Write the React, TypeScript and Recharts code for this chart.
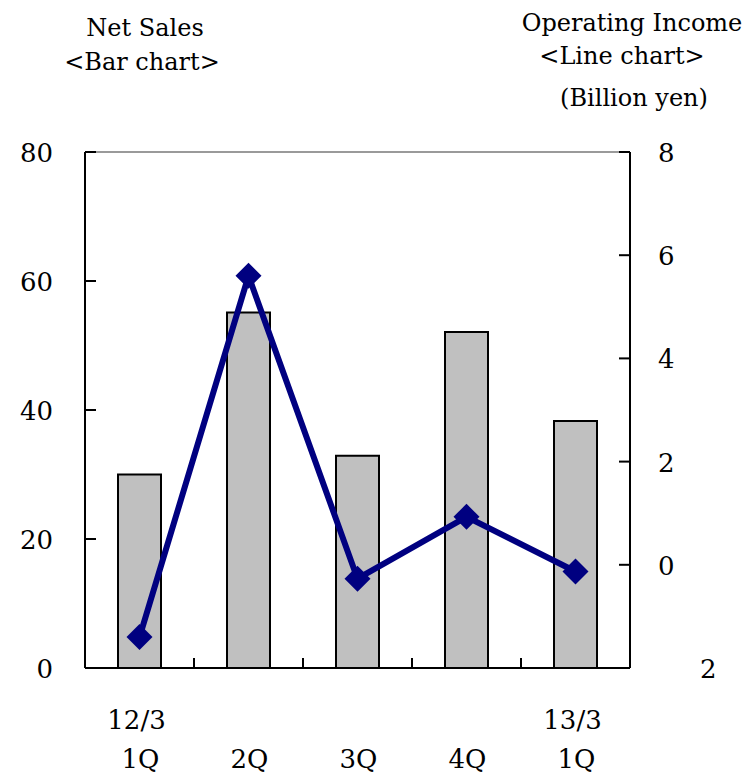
import React from 'react';
import { ComposedChart, Bar, Line, XAxis, YAxis, ReferenceLine } from 'recharts';

// Quarterly results: net sales (bars, left axis) and operating income (line, right axis)
const quarters = ['1Q', '2Q', '3Q', '4Q', '1Q'];
const fiscalYears = ['12/3', '', '', '', '13/3'];
const netSales = [30.0, 55.1, 32.9, 52.1, 38.3];
const operatingIncome = [-1.4, 5.6, -0.27, 0.93, -0.13];
const salesTicks = [0, 20, 40, 60, 80];
const incomeTicks = [-2, 0, 2, 4, 6, 8];

const data = quarters.map((q, i) => ({
  slot: i,
  quarter: q,
  sales: netSales[i],
  income: operatingIncome[i],
}));

const FONT = '"DejaVu Serif", serif';
const NUM_SIZE = 26;
const NAVY = '#000080';

const QuarterTick = (props: any) => {
  const { x, y, payload } = props;
  const i: number = payload.value;
  const half: number = payload.offset ?? 0;
  return (
    <g>
      {i < quarters.length - 1 && half ? (
        <line x1={x + half} x2={x + half} y1={y} y2={y - 10} stroke="#000" strokeWidth={2} />
      ) : null}
      {fiscalYears[i] ? (
        <text x={x - 3} y={y + 61} textAnchor="middle" fontFamily={FONT} fontSize={NUM_SIZE} fill="#000">
          {fiscalYears[i]}
        </text>
      ) : null}
      <text x={x + 1} y={y + 100} textAnchor="middle" fontFamily={FONT} fontSize={NUM_SIZE} fill="#000">
        {quarters[i]}
      </text>
    </g>
  );
};

const SalesTick = (props: any) => {
  const { x, y, payload } = props;
  const v: number = payload.value;
  return (
    <g>
      {v > 0 ? <line x1={x} x2={x + 11} y1={y} y2={y} stroke="#000" strokeWidth={2} /> : null}
      <text x={x - 32} y={y + 10} textAnchor="end" fontFamily={FONT} fontSize={NUM_SIZE} fill="#000">
        {v}
      </text>
    </g>
  );
};

const IncomeTick = (props: any) => {
  const { x, y, payload } = props;
  const v: number = payload.value;
  const isBottom = v === incomeTicks[0];
  return (
    <g>
      {!isBottom ? <line x1={x} x2={x - 11} y1={y} y2={y} stroke="#000" strokeWidth={2} /> : null}
      <text
        x={isBottom ? x + 70 : x + 28}
        y={y + 10}
        textAnchor="start"
        fontFamily={FONT}
        fontSize={NUM_SIZE}
        fill="#000"
      >
        {Math.abs(v)}
      </text>
    </g>
  );
};

const DiamondDot = (props: any) => {
  const { cx, cy, index } = props;
  const r = 13;
  return (
    <polygon
      key={`dot-${index}`}
      points={`${cx},${cy - r} ${cx + r},${cy} ${cx},${cy + r} ${cx - r},${cy}`}
      fill={NAVY}
      stroke="none"
    />
  );
};

const titleStyle = { fontFamily: FONT, fontSize: 24, fill: '#000' } as const;

export default function App() {
  return (
    <div style={{ position: 'absolute', left: 0, top: 0, width: 756, height: 776, background: '#fff' }}>
      <ComposedChart
        width={756}
        height={776}
        data={data}
        margin={{ top: 152, right: 0, bottom: 0, left: 0 }}
      >
        <XAxis
          dataKey="slot"
          type="category"
          xAxisId="q"
          height={108}
          tickSize={0}
          tickMargin={0}
          tickLine={false}
          axisLine={{ stroke: '#000', strokeWidth: 2 }}
          tick={<QuarterTick />}
          interval={0}
        />
        <YAxis
          yAxisId="sales"
          orientation="left"
          width={85}
          domain={[0, 80]}
          ticks={salesTicks}
          tickSize={0}
          tickMargin={0}
          tickLine={false}
          axisLine={{ stroke: '#000', strokeWidth: 2 }}
          tick={<SalesTick />}
          interval={0}
        />
        <YAxis
          yAxisId="income"
          orientation="right"
          width={126}
          domain={[-2, 8]}
          ticks={incomeTicks}
          tickSize={0}
          tickMargin={0}
          tickLine={false}
          axisLine={{ stroke: '#000', strokeWidth: 2 }}
          tick={<IncomeTick />}
          interval={0}
        />
        <ReferenceLine yAxisId="sales" xAxisId="q" y={80} stroke="#9a9a9a" strokeWidth={2} />
        <Bar
          xAxisId="q"
          yAxisId="sales"
          dataKey="sales"
          barSize={43}
          fill="#c0c0c0"
          stroke="#000"
          strokeWidth={2}
          isAnimationActive={false}
        />
        <Line
          xAxisId="q"
          yAxisId="income"
          dataKey="income"
          type="linear"
          stroke={NAVY}
          strokeWidth={6}
          dot={DiamondDot}
          activeDot={false}
          isAnimationActive={false}
        />
      </ComposedChart>
      <svg
        width={756}
        height={152}
        style={{ position: 'absolute', left: 0, top: 0, pointerEvents: 'none' }}
      >
        <text x={145} y={36} textAnchor="middle" {...titleStyle}>Net Sales</text>
        <text x={142} y={70} textAnchor="middle" {...titleStyle}>{'<Bar chart>'}</text>
        <text x={632} y={31} textAnchor="middle" {...titleStyle}>Operating Income</text>
        <text x={622} y={64} textAnchor="middle" {...titleStyle}>{'<Line chart>'}</text>
        <text x={634} y={106} textAnchor="middle" {...titleStyle}>(Billion yen)</text>
      </svg>
    </div>
  );
}
